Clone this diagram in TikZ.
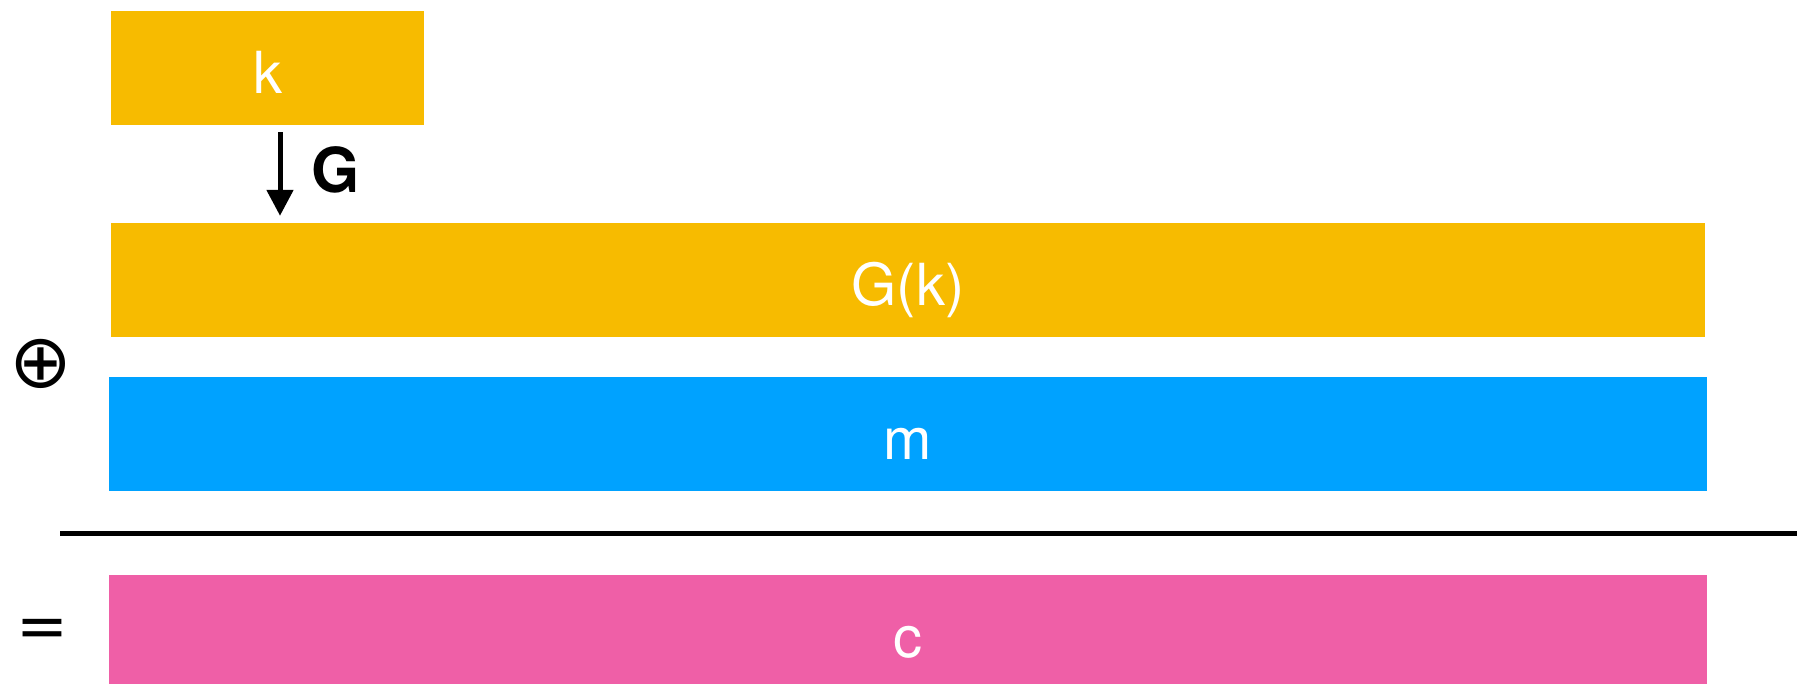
\documentclass[tikz,border=0pt]{standalone}
\usepackage{fontspec}
\setmainfont{TeX Gyre Heros}
\newfontfamily\symfont{DejaVu Sans}
\usetikzlibrary{arrows.meta, positioning}
\definecolor{keyyellow}{HTML}{F7BB00}
\definecolor{msgblue}{HTML}{00A2FF}
\definecolor{cipherpink}{HTML}{EF5FA7}

\begin{document}
\begin{tikzpicture}[
    x=1pt, y=-1pt,
    block/.style={rectangle, inner sep=0pt, minimum height=114pt, text height=50pt, text depth=0pt, text=white, font=\fontsize{58}{60}\selectfont},
    arrow/.style={line width=5pt, -{Triangle[width=26pt, length=26pt]}},
    opsym/.style={inner sep=0pt, font=\symfont\fontsize{75}{75}\selectfont}
]
\clip (0,0) rectangle (1797,683);

% Blocks
\node (key) [block, fill=keyyellow, minimum width=313pt] at (267.5,68) {k};
\node (gk) [block, fill=keyyellow, minimum width=1594pt] at (908,280) {G(k)};
\node (msg) [block, fill=msgblue, minimum width=1598pt] at (908,434) {m};
\node (cipher) [block, fill=cipherpink, minimum width=1598pt] at (908,632) {c};

% Operators
\node (plus) [opsym] at (41,364) {⊕};
\node (equals) [opsym, font=\symfont\fontsize{62}{62}\selectfont] at (42,633) {=};
\coordinate (barL) at (60,533);
\coordinate (barR) at (1797,533);

% Arrows
\draw [arrow] ([xshift=12.5pt, yshift=-7pt]key.south) -- node[anchor=west, inner sep=0pt, xshift=29pt, yshift=4pt, font=\fontsize{62}{62}\selectfont\bfseries] {G} ([xshift=12.5pt, yshift=7pt]key.south |- gk.north);
\draw [line width=5pt] (barL) -- (barR);

\end{tikzpicture}
\end{document}
